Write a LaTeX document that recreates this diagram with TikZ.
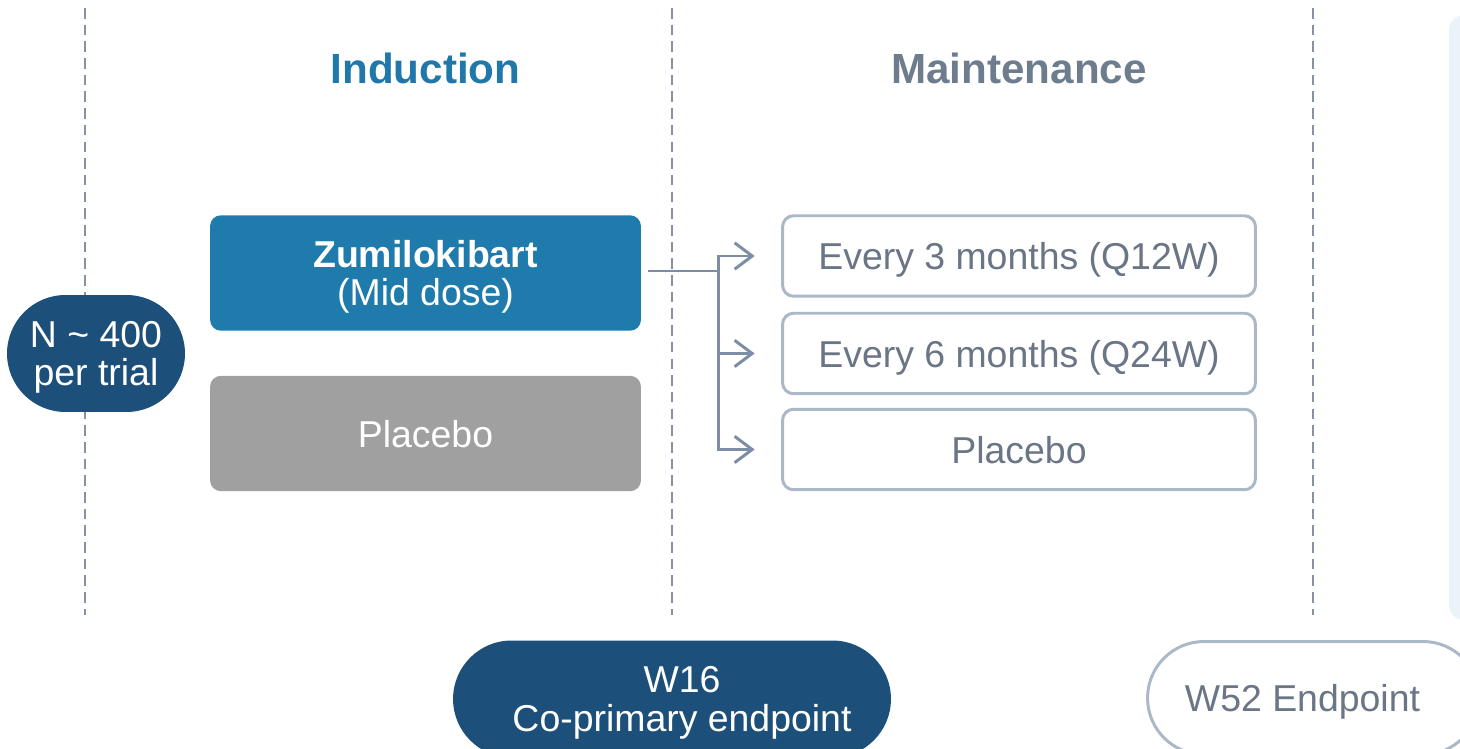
\documentclass[tikz,border=0pt]{standalone}
\usepackage{fontspec}
\setmainfont{Liberation Sans}
\usetikzlibrary{arrows.meta, positioning}

\definecolor{navy}{HTML}{1C4F7A}
\definecolor{zumiblue}{HTML}{1F7BAB}
\definecolor{titleblue}{HTML}{1F77AA}
\definecolor{titlegrey}{HTML}{6E7D8E}
\definecolor{placebogrey}{HTML}{A0A0A0}
\definecolor{boxline}{HTML}{ABB8C8}
\definecolor{boxtext}{HTML}{6A7585}
\definecolor{conn}{HTML}{7D8DA5}
\definecolor{divider}{HTML}{8592A6}
\definecolor{panel}{HTML}{E9F3F8}

\begin{document}
\begin{tikzpicture}
        [x=0.02cm, y=-0.02cm,
        phase/.style={font=\fontsize{24}{28}\selectfont\bfseries},
        arm/.style={rectangle, rounded corners=0.22cm, text=white,
        minimum width=8.62cm, minimum height=2.31cm, text depth=0pt,
        align=center, font=\fontsize{21.3}{22}\selectfont},
        mbox/.style={rectangle, draw=boxline, line width=1.7pt, fill=white,
        rounded corners=0.22cm, text=boxtext, text depth=0pt,
        minimum width=9.46cm, minimum height=1.61cm,
        font=\fontsize{21.3}{22}\selectfont},
        pill/.style={rectangle, inner sep=0pt, align=center, text depth=0pt,
        minimum height=2.34cm, rounded corners=1.17cm,
        font=\fontsize{21.3}{22}\selectfont},
        line/.style={draw=conn, line width=1.7pt},
        divline/.style={draw=divider, line width=1.5pt, dash pattern=on 6pt off 3.5pt}]
        \useasboundingbox (0,0) rectangle (1460,749);

        % side panel and phase dividers
        \fill [panel, rounded corners=0.3cm] (1449,15) rectangle (1520,620);
        \foreach \x in {85, 672, 1313}
            \path [divline] (\x,8) -- (\x,615);

        % titles
        \node [phase, text=titleblue] (induction) at (425.5,68) {Induction};
        \node [phase, text=titlegrey] (maintenance) at (1019,68) {Maintenance};

        % randomisation
        \node [pill, fill=navy, text=white, minimum width=3.56cm] (trial) at (96,353.5)
            {N \textasciitilde{} 400\\per trial};

        % induction arms
        \node [arm, fill=zumiblue] (zumi) at (425.5,273)
            {\textbf{Zumilokibart}\\(Mid dose)};
        \node [arm, fill=placebogrey] (indplacebo) at (425.5,433.5) {Placebo};

        % maintenance arms
        \node [mbox] (q12) at (1019,256) {Every 3 months (Q12W)};
        \node [mbox] (q24) at (1019,353.5) {Every 6 months (Q24W)};
        \node [mbox] (mplacebo) at (1019,449.5) {Placebo};

        % endpoints
        \node [pill, fill=navy, minimum width=8.76cm,
            label={[pill, text=white, xshift=0.2cm]center:W16\\Co-primary endpoint}]
            (w16) at (672,699) {};
        \node [pill, draw=boxline, line width=1.7pt,
            minimum width=6.64cm, minimum height=2.26cm, rounded corners=1.13cm,
            label={[pill, text=boxtext, xshift=-0.22cm]center:W52 Endpoint}]
            (w52) at (1313.5,698) {};

        \coordinate (fork) at (718,271);
        \begin{scope}[every path/.style=line]
            \path [shorten <=4pt] (zumi.east |- fork) -- (fork);
            \path [-{Straight Barb[length=10pt, width=15pt]}, shorten >=15pt] (fork) |- (q12.west);
            \path [-{Straight Barb[length=10pt, width=15pt]}, shorten >=15pt] (fork) |- (q24.west);
            \path [-{Straight Barb[length=10pt, width=15pt]}, shorten >=15pt] (fork) |- (mplacebo.west);
        \end{scope}
    \end{tikzpicture}
\end{document}
